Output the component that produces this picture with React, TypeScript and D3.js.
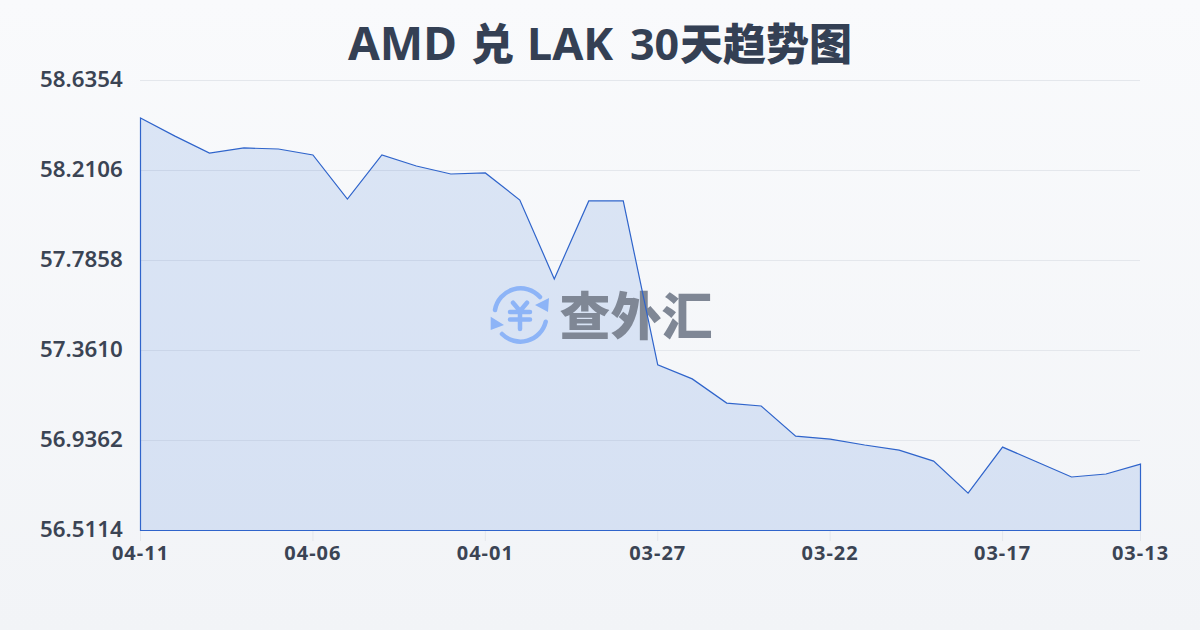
import React from "react";
import * as d3 from "d3";

const titleParts = ["AMD", "兑", "LAK", "30", "天趋势图"];
const dates = ["04-11","04-10","04-09","04-08","04-07","04-06","04-05","04-04","04-03","04-02","04-01","03-31","03-30","03-29","03-28","03-27","03-26","03-25","03-24","03-23","03-22","03-21","03-20","03-19","03-18","03-17","03-16","03-15","03-14","03-13"];
const rates = [58.458,58.373,58.293,58.317,58.312,58.284,58.076,58.284,58.232,58.194,58.199,58.071,57.699,58.067,58.067,57.293,57.227,57.113,57.099,56.957,56.943,56.915,56.891,56.839,56.688,56.905,56.835,56.764,56.778,56.825];
const yTicks = [56.5114,56.9362,57.361,57.7858,58.2106,58.6354];
const xTickDates = ["04-11","04-06","04-01","03-27","03-22","03-17","03-13"];

const font = "'Noto Sans','Noto Sans CJK SC',sans-serif";

export default function App() {
  const x = d3.scalePoint<string>().domain(dates).range([140.5, 1140.5]);
  const y = d3.scaleLinear().domain([56.5114, 58.6354]).range([530.5, 80.5]);
  const idx = dates.map((_, i) => i);
  const area = d3.area<number>().x(i => x(dates[i])!).y0(y(56.5114)).y1(i => y(rates[i]));
  return (
    <svg width={1200} height={630} viewBox="0 0 1200 630" style={{ position: "fixed", left: 0, top: 0 }} fontFamily={font}>
      <defs>
        <linearGradient id="bg" x1="0" y1="0" x2="0" y2="1">
          <stop offset="0" stopColor="#f9fafc" />
          <stop offset="1" stopColor="#f2f4f7" />
        </linearGradient>
      </defs>
      <rect width={1200} height={630} fill="url(#bg)" />
      <text y={60} fontWeight={700} fill="#344054">
        <tspan x={348} fontSize={46}>{titleParts[0]}</tspan>
        <tspan x={471} fontSize={43} fontWeight={900}>{titleParts[1]}</tspan>
        <tspan x={527} fontSize={45}>{titleParts[2]}</tspan>
        <tspan x={630} fontSize={43}>{titleParts[3]}</tspan>
        <tspan x={680} fontSize={43} fontWeight={900}>{titleParts[4]}</tspan>
      </text>
      {yTicks.map(t => (
        <g key={t}>
          <line x1={140} x2={1140} y1={y(t)} y2={y(t)} stroke="#e4e7ec" strokeWidth={1} />
          <text x={122.7} y={y(t) + 6} textAnchor="end" fontSize={22.3} fontWeight={600} fill="#3b4454">{t.toFixed(4)}</text>
        </g>
      ))}
      {xTickDates.map(t => (
        <g key={t}>
          <line x1={x(t)} x2={x(t)} y1={530.5} y2={541} stroke="#e4e7ec" strokeWidth={1} />
          <text x={x(t)} y={560} textAnchor="middle" fontSize={20} fontWeight={700} letterSpacing={1} fill="#3b4454">{t}</text>
        </g>
      ))}
      <path d={area(idx)!} fill="#3370d9" fillOpacity={0.15} stroke="none" />
      <g>
        <g fill="none" stroke="#8db4f7" strokeWidth={4.5} strokeLinecap="round">
          <path d="M 495 310 A 26 26 0 0 1 540 297" />
          <path d="M 545.7 321.7 A 26 26 0 0 1 502 334" />
          <path d="M 513 302.7 L 520 311 L 527 302.7 M 520 311 L 520 329 M 510 312 L 530 312 M 510 319.5 L 530 319.5" />
        </g>
        <path d="M 549 298 L 548 312 L 535 305 Z M 490.7 316.7 L 490.7 330 L 504 325 Z" fill="#8db4f7" />
        <text x={636} y={335} textAnchor="middle" fontSize={51} fontWeight={900} fill="#7f8795" fontFamily="'Noto Sans CJK SC'">查外汇</text>
      </g>
      <path d={area(idx)!} fill="none" stroke="#2f64cb" strokeWidth={1.2} />
    </svg>
  );
}
